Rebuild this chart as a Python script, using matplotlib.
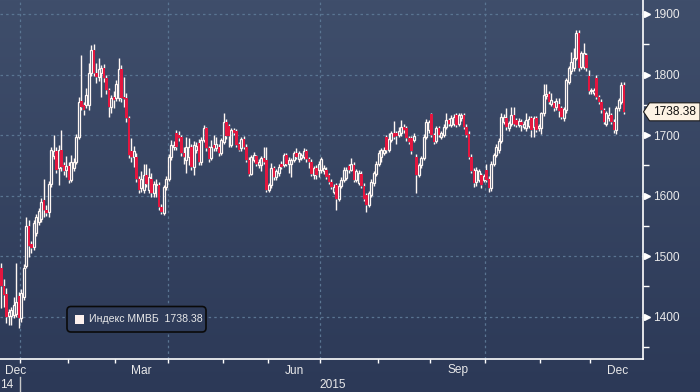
import matplotlib
matplotlib.use("Agg")
import matplotlib.pyplot as plt
import matplotlib.transforms as mtransforms
from matplotlib.colors import LinearSegmentedColormap
from matplotlib.patches import FancyBboxPatch, Polygon, Rectangle
import numpy as np

plt.rcParams['font.family'] = ['Liberation Sans', 'DejaVu Sans']

# ---------------- data (daily OHLC, MICEX index, Dec 2014 - Dec 2015) ----------------
opens = [
    1480, 1450, 1438, 1401, 1401, 1403, 1405, 1434, 1397, 1433,
    1484, 1549, 1520, 1515, 1538, 1557, 1562, 1593, 1577, 1573,
    1619, 1665, 1674, 1645, 1676, 1651, 1642, 1649, 1626, 1645,
    1656, 1697, 1757, 1750, 1750, 1750, 1803, 1841, 1802, 1796,
    1802, 1810, 1795, 1774, 1747, 1763, 1761, 1761, 1809, 1763,
    1761, 1728, 1673, 1664, 1664, 1628, 1612, 1609, 1634, 1609,
    1628, 1604, 1617, 1617, 1582, 1572, 1615, 1628, 1664, 1680,
    1703, 1700, 1696, 1670, 1659, 1664, 1680, 1648, 1675, 1687,
    1656, 1692, 1711, 1678, 1662, 1684, 1678, 1681, 1671, 1689,
    1722, 1715, 1684, 1709, 1706, 1685, 1678, 1693, 1681, 1659,
    1636, 1659, 1665, 1651, 1651, 1662, 1659, 1610, 1617, 1645,
    1630, 1637, 1653, 1651, 1667, 1653, 1652, 1659, 1671, 1660,
    1662, 1664, 1673, 1660, 1656, 1634, 1645, 1642, 1642, 1640,
    1643, 1634, 1623, 1606, 1617, 1595, 1616, 1626, 1629, 1649,
    1642, 1651, 1626, 1620, 1636, 1616, 1601, 1584, 1601, 1620,
    1636, 1653, 1664, 1671, 1696, 1676, 1692, 1703, 1703, 1700,
    1703, 1714, 1711, 1695, 1695, 1692, 1664, 1634, 1650, 1662,
    1697, 1708, 1735, 1700, 1691, 1711, 1697, 1700, 1714, 1725,
    1717, 1719, 1733, 1719, 1728, 1733, 1714, 1702, 1664, 1641,
    1623, 1626, 1634, 1626, 1643, 1628, 1612, 1653, 1667, 1675,
    1691, 1722, 1729, 1711, 1719, 1733, 1725, 1717, 1722, 1714,
    1711, 1715, 1728, 1714, 1728, 1711, 1711, 1736, 1764, 1768,
    1752, 1753, 1746, 1752, 1744, 1728, 1741, 1788, 1805, 1810,
    1828, 1869, 1813, 1813, 1832, 1798, 1772, 1770, 1794, 1763,
    1755, 1741, 1719, 1728, 1733, 1722, 1708, 1744, 1755, 1783,
]
highs = [
    1488, 1463, 1448, 1412, 1416, 1433, 1488, 1440, 1445, 1487,
    1565, 1560, 1525, 1560, 1570, 1580, 1596, 1628, 1585, 1624,
    1680, 1700, 1680, 1684, 1708, 1656, 1665, 1655, 1667, 1662,
    1702, 1763, 1832, 1755, 1777, 1819, 1849, 1850, 1819, 1827,
    1815, 1818, 1800, 1778, 1766, 1772, 1791, 1827, 1815, 1796,
    1769, 1732, 1695, 1682, 1670, 1632, 1640, 1653, 1653, 1645,
    1637, 1624, 1628, 1622, 1586, 1617, 1632, 1668, 1692, 1690,
    1708, 1706, 1700, 1681, 1697, 1695, 1686, 1690, 1688, 1693,
    1697, 1716, 1714, 1682, 1692, 1700, 1697, 1686, 1695, 1736,
    1727, 1719, 1711, 1711, 1710, 1689, 1697, 1698, 1685, 1663,
    1667, 1672, 1667, 1660, 1666, 1681, 1681, 1621, 1654, 1649,
    1644, 1652, 1657, 1670, 1671, 1663, 1662, 1673, 1678, 1674,
    1671, 1678, 1677, 1663, 1660, 1649, 1650, 1657, 1664, 1650,
    1647, 1638, 1627, 1619, 1621, 1620, 1630, 1647, 1647, 1653,
    1662, 1655, 1644, 1642, 1640, 1620, 1605, 1608, 1627, 1641,
    1657, 1675, 1678, 1680, 1700, 1703, 1707, 1724, 1707, 1714,
    1725, 1718, 1715, 1699, 1699, 1703, 1668, 1654, 1666, 1701,
    1726, 1725, 1736, 1704, 1715, 1715, 1707, 1718, 1736, 1729,
    1733, 1734, 1737, 1737, 1737, 1737, 1718, 1706, 1668, 1645,
    1647, 1644, 1638, 1636, 1653, 1632, 1657, 1671, 1685, 1695,
    1736, 1734, 1744, 1724, 1747, 1747, 1729, 1728, 1726, 1723,
    1736, 1731, 1732, 1732, 1732, 1719, 1738, 1785, 1785, 1772,
    1769, 1757, 1761, 1761, 1748, 1747, 1795, 1814, 1838, 1843,
    1873, 1874, 1839, 1852, 1836, 1808, 1778, 1778, 1799, 1767,
    1759, 1745, 1740, 1747, 1737, 1726, 1748, 1762, 1788, 1787,
]
lows = [
    1414, 1416, 1389, 1386, 1386, 1398, 1400, 1381, 1392, 1428,
    1480, 1499, 1505, 1510, 1533, 1552, 1556, 1565, 1566, 1565,
    1615, 1660, 1638, 1617, 1640, 1634, 1631, 1620, 1622, 1640,
    1652, 1693, 1742, 1733, 1745, 1741, 1798, 1797, 1786, 1790,
    1763, 1788, 1768, 1730, 1736, 1744, 1756, 1756, 1755, 1747,
    1722, 1662, 1656, 1648, 1622, 1604, 1606, 1604, 1614, 1604,
    1598, 1598, 1598, 1577, 1569, 1568, 1610, 1624, 1659, 1676,
    1676, 1690, 1665, 1653, 1637, 1650, 1643, 1634, 1670, 1650,
    1651, 1688, 1673, 1656, 1659, 1673, 1674, 1665, 1667, 1685,
    1694, 1681, 1680, 1700, 1681, 1673, 1674, 1677, 1655, 1632,
    1634, 1655, 1649, 1646, 1641, 1652, 1606, 1606, 1613, 1626,
    1626, 1633, 1644, 1647, 1649, 1637, 1631, 1655, 1660, 1656,
    1658, 1660, 1656, 1645, 1632, 1628, 1628, 1630, 1638, 1636,
    1627, 1619, 1611, 1602, 1576, 1591, 1612, 1622, 1625, 1638,
    1640, 1622, 1622, 1618, 1612, 1591, 1573, 1582, 1597, 1616,
    1632, 1649, 1656, 1667, 1671, 1672, 1688, 1693, 1686, 1696,
    1699, 1704, 1691, 1685, 1669, 1688, 1605, 1630, 1646, 1658,
    1693, 1704, 1696, 1685, 1687, 1696, 1693, 1696, 1710, 1715,
    1713, 1715, 1713, 1715, 1724, 1710, 1696, 1660, 1637, 1615,
    1616, 1622, 1612, 1622, 1622, 1606, 1608, 1649, 1663, 1671,
    1687, 1718, 1708, 1707, 1715, 1715, 1713, 1713, 1706, 1710,
    1707, 1711, 1697, 1697, 1705, 1707, 1702, 1732, 1760, 1751,
    1748, 1740, 1742, 1730, 1726, 1724, 1737, 1784, 1801, 1806,
    1824, 1806, 1809, 1809, 1806, 1768, 1768, 1766, 1759, 1751,
    1737, 1718, 1715, 1724, 1718, 1704, 1702, 1740, 1751, 1735,
]
closes = [
    1450, 1436, 1399, 1408, 1411, 1419, 1425, 1397, 1439, 1481,
    1549, 1516, 1513, 1554, 1564, 1574, 1590, 1576, 1572, 1619,
    1675, 1673, 1643, 1675, 1647, 1640, 1649, 1626, 1656, 1656,
    1697, 1755, 1747, 1741, 1766, 1803, 1841, 1802, 1796, 1809,
    1810, 1794, 1774, 1747, 1761, 1758, 1785, 1809, 1761, 1759,
    1728, 1667, 1664, 1673, 1628, 1610, 1628, 1634, 1619, 1630,
    1605, 1619, 1619, 1582, 1573, 1615, 1628, 1664, 1684, 1684,
    1681, 1695, 1670, 1664, 1681, 1680, 1648, 1684, 1682, 1656,
    1692, 1711, 1678, 1661, 1681, 1678, 1686, 1670, 1692, 1722,
    1698, 1698, 1708, 1704, 1684, 1676, 1693, 1681, 1659, 1636,
    1663, 1667, 1653, 1656, 1662, 1656, 1610, 1617, 1645, 1630,
    1640, 1648, 1648, 1667, 1653, 1659, 1658, 1671, 1664, 1670,
    1667, 1673, 1660, 1656, 1636, 1645, 1634, 1653, 1660, 1645,
    1631, 1623, 1615, 1615, 1595, 1616, 1626, 1643, 1643, 1642,
    1653, 1626, 1640, 1638, 1616, 1595, 1584, 1604, 1623, 1637,
    1653, 1671, 1675, 1676, 1675, 1693, 1703, 1697, 1698, 1706,
    1714, 1708, 1695, 1689, 1673, 1698, 1634, 1650, 1662, 1697,
    1722, 1722, 1700, 1689, 1711, 1700, 1703, 1714, 1725, 1719,
    1728, 1730, 1717, 1733, 1733, 1714, 1700, 1664, 1641, 1620,
    1642, 1640, 1617, 1632, 1626, 1612, 1653, 1667, 1681, 1691,
    1730, 1730, 1714, 1720, 1733, 1719, 1717, 1724, 1717, 1719,
    1725, 1727, 1708, 1728, 1709, 1715, 1736, 1766, 1768, 1755,
    1758, 1744, 1757, 1739, 1730, 1743, 1791, 1810, 1820, 1828,
    1869, 1810, 1835, 1836, 1810, 1772, 1774, 1774, 1763, 1755,
    1741, 1722, 1736, 1733, 1722, 1708, 1744, 1758, 1783, 1738.38,
]

# trading days per month: Dec 2014 (visible part), Jan ... Dec 2015 (full month slots)
month_days = [8, 19, 19, 21, 22, 18, 21, 23, 21, 22, 22, 20, 22]
month_labels = ["Dec", "Mar", "Jun", "Sep", "Dec"]
y_ticks = [1400, 1500, 1600, 1700, 1800, 1900]
y_minor = [1350, 1450, 1550, 1650, 1750, 1850]
series_name = "Индекс ММВБ"
last_value = 1738.38

# ---------------- styling ----------------
W, H = 700, 392
BG_TOP, BG_BOT = "#3f4e6b", "#2c3957"
RED = "#e3163f"
WHITE = "#fff7f3"
GRID = "#5a7592"
TXT = "#e9e9ea"

fig = plt.figure(figsize=(W / 100, H / 100), dpi=100)

bg = fig.add_axes([0, 0, 1, 1])
bg.axis("off")
grad = np.linspace(0, 1, 256).reshape(-1, 1)
bg.imshow(grad, aspect="auto", extent=[0, 1, 0, 1],
          cmap=LinearSegmentedColormap.from_list("bg", [BG_TOP, BG_BOT]))

ax_left, ax_right_px, ax_bot_px = 0, 643, 359
ax = fig.add_axes([0, 1 - ax_bot_px / H, ax_right_px / W, ax_bot_px / H])
ax.set_facecolor("none")

o = np.array(opens, float)
h = np.array(highs, float)
l = np.array(lows, float)
c = np.array(closes, float)
x = np.arange(len(c))
up = c >= o
top = np.maximum(o, c)
bot = np.minimum(o, c)

ax.set_xlim(-0.6, 256.6)
ax.set_ylim(1330.1, 1923.1)

# grid
for v in y_ticks:
    ax.axhline(v, color=GRID, lw=0.9, ls=(0, (2, 2.5)), zorder=1)
bounds = np.cumsum(month_days) - 0.5
for b in bounds[[0, 3, 6, 9]]:
    ax.axvline(b, color=GRID, lw=0.9, ls=(0, (2, 2.5)), zorder=1)

# candles
ax.vlines(x, top, h, color=WHITE, lw=1.0, zorder=3)
ax.vlines(x, l, bot, color=WHITE, lw=1.0, zorder=3)
ax.bar(x[up], (top - bot)[up], bottom=bot[up], width=0.8,
       facecolor="none", edgecolor=WHITE, linewidth=0.9, zorder=4)
ax.bar(x[~up], (top - bot)[~up], bottom=bot[~up], width=0.9,
       color=RED, linewidth=0, zorder=4)

# spines
for s in ["left", "top"]:
    ax.spines[s].set_visible(False)
for s in ["right", "bottom"]:
    ax.spines[s].set_color("white")
    ax.spines[s].set_linewidth(1.2)

# y axis (right)
ax.yaxis.tick_right()
ax.set_yticks(y_ticks)
ax.set_yticklabels([str(v) for v in y_ticks])
ax.set_yticks(y_minor, minor=True)
ax.tick_params(axis="y", which="major", length=0, pad=7.3, labelsize=8.6,
               labelcolor=TXT)
ax.tick_params(axis="y", which="minor", length=4, width=1.0, color="white",
               direction="out")
tri_tr = mtransforms.blended_transform_factory(ax.transAxes, ax.transData) + \
    mtransforms.ScaledTranslation(3.5 / 100, 0, fig.dpi_scale_trans)
ax.plot([1.0] * len(y_ticks), y_ticks, ls="none", marker=">", ms=4.2,
        color="white", mec="white", transform=tri_tr, clip_on=False, zorder=6)

# x axis
ax.set_xticks(bounds[:-1])
ax.set_xticklabels([])
ax.tick_params(axis="x", which="major", length=3, width=1.0, color="white",
               direction="out")
xtr = mtransforms.blended_transform_factory(ax.transData, ax.transAxes)
label_pos = [5.8,
             (bounds[2] + bounds[3]) / 2,
             (bounds[5] + bounds[6]) / 2,
             (bounds[8] + bounds[9]) / 2,
             (bounds[11] + bounds[12]) / 2]
y_month = (359 - 370.5) / 359
y_year = (359 - 385) / 359
for xp, lab in zip(label_pos, month_labels):
    ax.text(xp, y_month, lab, transform=xtr, ha="center", va="center",
            fontsize=8.6, color=TXT, clip_on=False)
ax.text(-0.6, y_year, "14", transform=xtr, ha="left", va="center",
        fontsize=8.6, color=TXT, clip_on=False)
ax.text((bounds[0] + bounds[12]) / 2, y_year, "2015", transform=xtr,
        ha="center", va="center", fontsize=8.6, color=TXT, clip_on=False)
ax.plot([bounds[0], bounds[0]], [(359 - 377) / 359, (359 - 392) / 359],
        transform=xtr, color="#c9c9c9", lw=1.0, clip_on=False)

# legend box
px = mtransforms.IdentityTransform()
leg = FancyBboxPatch((67, H - 332), 139, 25.5,
                     boxstyle="round,pad=0,rounding_size=4",
                     facecolor="#2e3b59", edgecolor="#0a0a0a", lw=1.2,
                     transform=px, zorder=10)
fig.patches.append(leg)
fig.patches.append(Rectangle((74.5, H - 324), 9, 9.5, facecolor="#fdf1ee",
                             edgecolor="none", transform=px, zorder=11))
fig.text(89 / W, 1 - 319.5 / H, f"{series_name}  {last_value:.2f}",
         fontsize=7.6, color=TXT, ha="left", va="center", zorder=12)

# last value tag
yv = ax.transData.transform((0, last_value))[1]
tag = Polygon([(643.5, yv), (649.5, yv + 9), (700, yv + 9), (700, yv - 9),
               (649.5, yv - 9)], closed=True, facecolor="#fdf3e4",
              edgecolor="#1a1a1a", lw=0.8, transform=px, zorder=10)
fig.patches.append(tag)
fig.text(675 / W, yv / H, f"{last_value:.2f}", fontsize=8.6, color="#111111",
         ha="center", va="center", zorder=12)

fig.savefig("out.png", dpi=100)
